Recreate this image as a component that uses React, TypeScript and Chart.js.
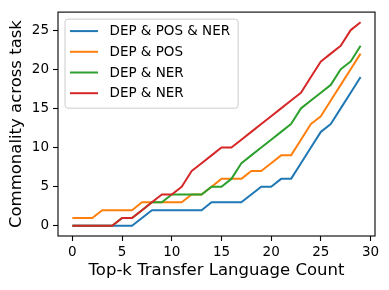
import React, { useEffect, useRef } from "react";
import { Chart, registerables } from "chart.js";

Chart.register(...registerables);

// ---- data ----
const topK = [0, 1, 2, 3, 4, 5, 6, 7, 8, 9, 10, 11, 12, 13, 14, 15, 16, 17, 18, 19, 20, 21, 22, 23, 24, 25, 26, 27, 28, 29];
const depPosNer = [0, 0, 0, 0, 0, 0, 0, 1, 2, 2, 2, 2, 2, 2, 3, 3, 3, 3, 4, 5, 5, 6, 6, 8, 10, 12, 13, 15, 17, 19];
const depPos = [1, 1, 1, 2, 2, 2, 2, 3, 3, 3, 3, 3, 4, 4, 5, 6, 6, 6, 7, 7, 8, 9, 9, 11, 13, 14, 16, 18, 20, 22];
const depNerA = [0, 0, 0, 0, 0, 1, 1, 2, 3, 3, 4, 4, 4, 4, 5, 5, 6, 8, 9, 10, 11, 12, 13, 15, 16, 17, 18, 20, 21, 23];
const depNerB = [0, 0, 0, 0, 0, 1, 1, 2, 3, 4, 4, 5, 7, 8, 9, 10, 10, 11, 12, 13, 14, 15, 16, 17, 19, 21, 22, 23, 25, 26];

const seriesLabels = ["DEP & POS & NER", "DEP & POS", "DEP & NER", "DEP & NER"];
const seriesColors = ["#1f77b4", "#ff7f0e", "#2ca02c", "#d62728"];
const xTicks = [0, 5, 10, 15, 20, 25, 30];
const yTicks = [0, 5, 10, 15, 20, 25];
const xTitle = "Top-k Transfer Language Count";
const yTitle = "Commonality across task";

const FONT = '"DejaVu Sans", "Liberation Sans", sans-serif';

const framePlugin = {
  id: "frame",
  afterDatasetsDraw(chart: any) {
    const { ctx, chartArea: a } = chart;
    ctx.save();
    ctx.strokeStyle = "#000";
    ctx.lineWidth = 1.1;
    ctx.strokeRect(a.left, a.top, a.right - a.left, a.bottom - a.top);
    ctx.restore();
  },
};

const legendPlugin = {
  id: "boxLegend",
  afterDraw(chart: any) {
    const { ctx, chartArea: a } = chart;
    const ds = chart.data.datasets;
    ctx.save();
    ctx.font = `13.5px ${FONT}`;
    const maxW = Math.max(...ds.map((d: any) => ctx.measureText(d.label).width));
    const x0 = a.left + 7;
    const y0 = a.top + 7;
    const rowH = 20.7;
    const textX = x0 + 44.5;
    const w = 44.5 + maxW + 8;
    const h = 12 + (ds.length - 1) * rowH + 15;
    const r = 3;
    ctx.beginPath();
    ctx.moveTo(x0 + r, y0);
    ctx.lineTo(x0 + w - r, y0);
    ctx.quadraticCurveTo(x0 + w, y0, x0 + w, y0 + r);
    ctx.lineTo(x0 + w, y0 + h - r);
    ctx.quadraticCurveTo(x0 + w, y0 + h, x0 + w - r, y0 + h);
    ctx.lineTo(x0 + r, y0 + h);
    ctx.quadraticCurveTo(x0, y0 + h, x0, y0 + h - r);
    ctx.lineTo(x0, y0 + r);
    ctx.quadraticCurveTo(x0, y0, x0 + r, y0);
    ctx.closePath();
    ctx.fillStyle = "rgba(255,255,255,0.8)";
    ctx.fill();
    ctx.strokeStyle = "#cccccc";
    ctx.lineWidth = 1;
    ctx.stroke();
    ds.forEach((d: any, i: number) => {
      const y = y0 + 12 + i * rowH;
      ctx.beginPath();
      ctx.moveTo(x0 + 5, y);
      ctx.lineTo(x0 + 33, y);
      ctx.strokeStyle = d.borderColor;
      ctx.lineWidth = 2;
      ctx.stroke();
      ctx.fillStyle = "#000";
      ctx.textBaseline = "alphabetic";
      ctx.textAlign = "left";
      ctx.fillText(d.label, textX, y + 4.2);
    });
    ctx.restore();
  },
};

export default function App() {
  const canvasRef = useRef<HTMLCanvasElement | null>(null);

  useEffect(() => {
    document.body.style.margin = "0";
    const canvas = canvasRef.current;
    if (!canvas) return;
    const series = [depPosNer, depPos, depNerA, depNerB];
    const chart = new Chart(canvas, {
      type: "line",
      data: {
        datasets: series.map((vals, i) => ({
          label: seriesLabels[i],
          data: topK.map((k, j) => ({ x: k, y: vals[j] })),
          borderColor: seriesColors[i],
          backgroundColor: seriesColors[i],
          borderWidth: 2,
          pointRadius: 0,
          tension: 0,
          fill: false,
          order: series.length - 1 - i,
          borderJoinStyle: "round" as const,
        })),
      },
      options: {
        responsive: false,
        animation: false,
        devicePixelRatio: 1,
        layout: { padding: { left: 0, right: 14, top: 10, bottom: 0 } },
        plugins: {
          legend: { display: false },
          tooltip: { enabled: false },
        },
        scales: {
          x: {
            type: "linear",
            min: -1.45,
            max: 30.45,
            afterBuildTicks: (s: any) => {
              s.ticks = xTicks.map((v) => ({ value: v }));
            },
            afterFit: (s: any) => {
              s.height = 54;
            },
            grid: {
              display: true,
              drawOnChartArea: false,
              drawTicks: true,
              tickLength: 5,
              tickColor: "#000",
              tickWidth: 1.1,
              color: "#000",
            },
            border: { display: false },
            ticks: {
              color: "#000",
              font: { family: FONT, size: 13.5 },
              padding: 3,
              maxRotation: 0,
              autoSkip: false,
            },
            title: {
              display: true,
              text: xTitle,
              color: "#000",
              font: { family: FONT, size: 16.5 },
              padding: { top: 0, bottom: 9 },
            },
          },
          y: {
            type: "linear",
            min: -1.3,
            max: 27.3,
            afterBuildTicks: (s: any) => {
              s.ticks = yTicks.map((v) => ({ value: v }));
            },
            afterFit: (s: any) => {
              s.width = 58;
            },
            grid: {
              display: true,
              drawOnChartArea: false,
              drawTicks: true,
              tickLength: 5,
              tickColor: "#000",
              tickWidth: 1.1,
              color: "#000",
            },
            border: { display: false },
            ticks: {
              color: "#000",
              font: { family: FONT, size: 13.5 },
              padding: 4,
              autoSkip: false,
            },
            title: {
              display: true,
              text: yTitle,
              color: "#000",
              font: { family: FONT, size: 16.5 },
              padding: { top: 7, bottom: 0 },
            },
          },
        },
      },
      plugins: [framePlugin, legendPlugin],
    });
    return () => chart.destroy();
  }, []);

  return (
    <div style={{ position: "fixed", left: 0, top: 0, width: 389, height: 290, background: "#fff" }}>
      <canvas ref={canvasRef} width={389} height={290} style={{ display: "block", width: 389, height: 290 }} />
    </div>
  );
}
